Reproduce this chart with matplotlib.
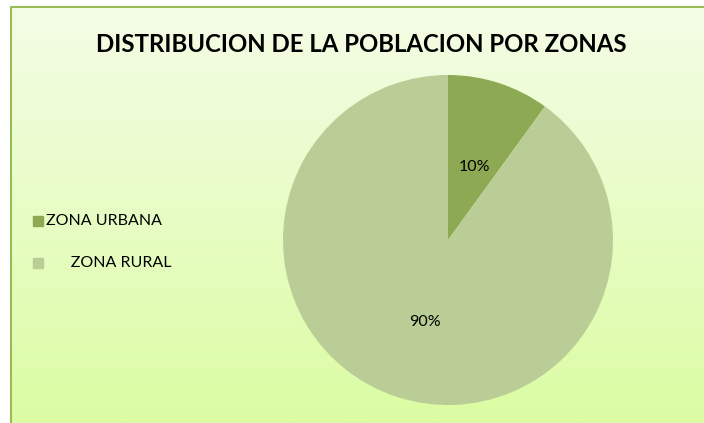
import numpy as np
import matplotlib
matplotlib.use('Agg')
import matplotlib.pyplot as plt
from matplotlib.patches import Rectangle

matplotlib.rcParams['font.family'] = ['Lato', 'DejaVu Sans']

title = 'DISTRIBUCION DE LA POBLACION POR ZONAS'
zonas = ['ZONA URBANA', '      ZONA RURAL']
porcentajes = [10, 90]
colores = ['#8EA953', '#BACD96']

W, H = 704, 423
fig = plt.figure(figsize=(W / 100, H / 100), dpi=100)

# background: pixel coordinate axes
bg = fig.add_axes([0, 0, 1, 1])
bg.set_xlim(0, W)
bg.set_ylim(H, 0)
bg.axis('off')
top = np.array([0xF4, 0xFD, 0xE6]) / 255
bottom = np.array([0xDB, 0xFC, 0xA3]) / 255
t = np.linspace(0, 1, 256)[:, None]
grad = (top[None, :] * (1 - t) + bottom[None, :] * t)[:, None, :]
bg.imshow(grad, extent=[10, W, H, 7], aspect='auto', zorder=0)
bg.add_patch(Rectangle((0, 0), W, 7, color='white', zorder=1))
bg.add_patch(Rectangle((0, 0), 10, H, color='white', zorder=1))
bg.plot([10.5, 10.5, W], [H, 7.5, 7.5], color='#9BBB59', lw=1.5, zorder=2)

bg.text(361, 45, title, ha='center', va='center', fontsize=17.3,
        fontweight='bold', color='black')

# legend
for i, (name, c) in enumerate(zip(zonas, colores)):
    y = 221 + i * 42
    bg.add_patch(Rectangle((33, y - 5), 10, 10, color=c, zorder=3))
    bg.text(46, y, name, ha='left', va='center', fontsize=11.5, color='black')

# pie
cx, cy, r = 448, 240, 165
ax = fig.add_axes([(cx - r) / W, (H - cy - r) / H, 2 * r / W, 2 * r / H])
ax.pie(porcentajes, colors=colores, startangle=90, counterclock=False,
       radius=1, wedgeprops=dict(linewidth=0))
ax.set_xlim(-1, 1)
ax.set_ylim(-1, 1)
ax.set_aspect('auto')
ax.axis('off')
ax.text((474 - cx) / r, (cy - 167) / r, '10%', ha='center', va='center', fontsize=11.5)
ax.text((425 - cx) / r, (cy - 322) / r, '90%', ha='center', va='center', fontsize=11.5)

fig.savefig('out.png', dpi=100)
